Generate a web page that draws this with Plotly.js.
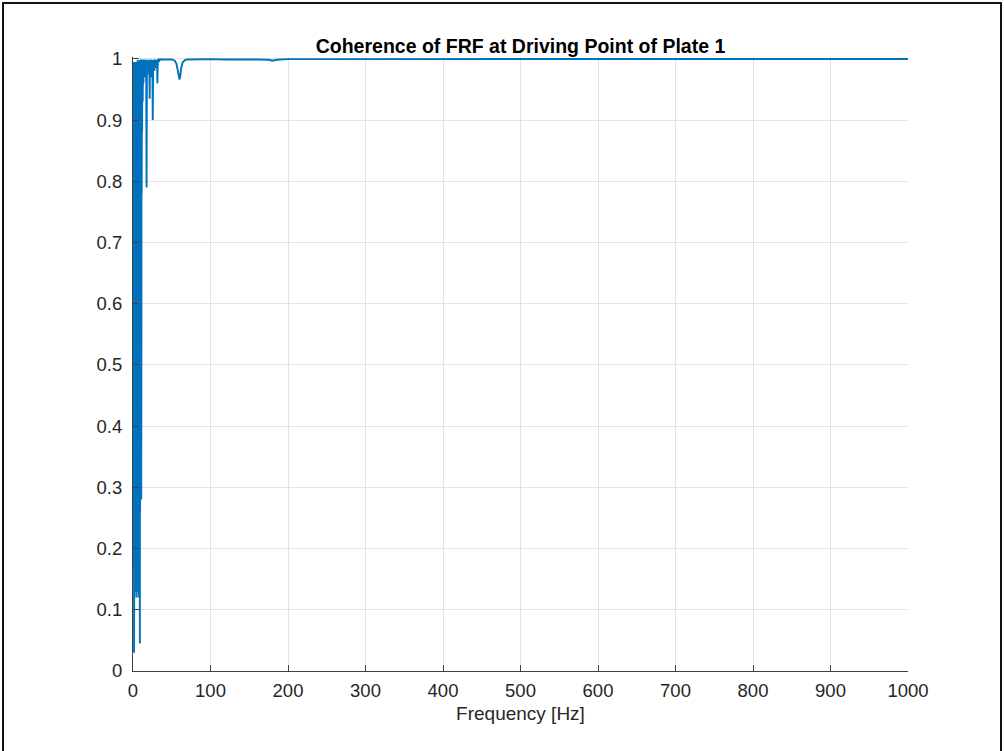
<!DOCTYPE html>
<html>
<head>
<meta charset="utf-8">
<script src="https://cdn.plot.ly/plotly-3.0.1.min.js"></script>
<style>
  html, body { margin: 0; padding: 0; background: #ffffff; overflow: hidden; }
  #wrap { position: relative; width: 1004px; height: 751px; }
  #chart { position: absolute; left: 0; top: 0; width: 1004px; height: 751px; }
  #frame { position: absolute; left: 2px; top: 2px; width: 996px; height: 780px;
           border: 2px solid #111111; pointer-events: none; }
</style>
</head>
<body>
<div id="wrap">
  <div id="chart"></div>
  <div id="frame"></div>
</div>
<script>
// Magnitude-squared coherence of the driving-point FRF, plate 1.
// Low band (0-11 Hz): poorly excited, coherence swings widely.
const freqLow = [0, 0.125, 0.25, 0.375, 0.5, 0.625, 0.75, 0.875, 1.0, 1.125, 1.25, 1.375,
                 1.5, 1.625, 1.75, 1.875, 2.0, 2.125, 2.25, 2.375, 2.5, 2.625, 2.75, 2.875,
                 3.0, 3.125, 3.25, 3.375, 3.5, 3.625, 3.75, 3.875, 4.0, 4.125, 4.25, 4.375,
                 4.5, 4.625, 4.75, 4.875, 5.0, 5.125, 5.25, 5.375, 5.5, 5.625, 5.75, 5.875,
                 6.0, 6.125, 6.25, 6.375, 6.5, 6.625, 6.75, 6.875, 7.0, 7.125, 7.25, 7.375,
                 7.5, 7.625, 7.75, 7.875, 8.0, 8.125, 8.25, 8.375, 8.5, 8.625, 8.75, 8.875,
                 9.0, 9.125, 9.25, 9.375, 9.5, 9.625, 9.75, 9.875, 10.0, 10.125, 10.25, 10.375,
                 10.5, 10.625, 10.75, 10.875];
const cohLow  = [0.93, 0.17, 0.98, 0.30, 0.99, 0.22, 0.97, 0.41, 0.995, 0.08, 0.98, 0.03,
                 0.99, 0.19, 0.97, 0.33, 0.995, 0.18, 0.985, 0.26, 0.96, 0.45, 0.99, 0.20,
                 0.99, 0.31, 0.98, 0.13, 0.98, 0.24, 0.995, 0.36, 0.995, 0.19, 0.975, 0.12,
                 0.97, 0.29, 0.99, 0.38, 0.99, 0.21, 0.985, 0.27, 0.985, 0.17, 0.995, 0.40,
                 0.998, 0.25, 0.99, 0.13, 0.99, 0.32, 0.995, 0.22, 0.995, 0.28, 0.98, 0.12,
                 0.98, 0.30, 0.997, 0.21, 0.997, 0.35, 0.99, 0.14, 0.99, 0.27, 0.996, 0.045,
                 0.998, 0.26, 0.995, 0.33, 0.995, 0.28, 0.997, 0.38, 0.999, 0.29, 0.99, 0.42,
                 0.995, 0.28, 0.998, 0.55];

// Transition band (11-35 Hz): isolated coherence drops.
const freqMid = [11.0, 11.25, 11.5, 11.75, 12.0, 12.5, 13.0, 13.5,
                 14.0, 14.5, 15.0, 15.5, 16.0, 16.5, 17.0, 17.5, 18.0, 18.5, 19.0, 19.5,
                 20.0, 20.5, 21.0, 21.5, 22.0, 22.5, 23.0, 23.5, 24.0, 24.5, 25.0, 25.5,
                 26.0, 26.5, 27.0, 27.5, 28.0, 28.5, 29.0, 29.5, 30.0, 30.5, 31.0, 31.5,
                 32.0, 33.0, 34.0, 35.0];
const cohMid  = [0.995, 0.78, 0.998, 0.88, 0.999, 0.93, 0.998, 0.96,
                 0.999, 0.975, 0.998, 0.97, 0.999, 0.985, 0.995, 0.79, 0.997, 0.98, 0.999, 0.975,
                 0.998, 0.99, 0.997, 0.935, 0.998, 0.985, 0.999, 0.97, 0.998, 0.99, 0.997, 0.90,
                 0.998, 0.985, 0.999, 0.98, 0.998, 0.99, 0.999, 0.985, 0.998, 0.99, 0.995, 0.96,
                 0.998, 0.999, 0.997, 0.999];

// Upper band (35-1000 Hz): coherence close to unity, small dip near 60 Hz.
const freqHigh = [40, 45, 50, 54, 56, 58, 59, 60, 61, 62, 64, 67, 70, 80, 90, 100,
                  120, 140, 160, 175, 180, 185, 200, 250, 300, 350, 400, 450, 500,
                  550, 600, 650, 700, 750, 800, 850, 900, 950, 1000];
const cohHigh  = [0.999, 0.9985, 0.999, 0.997, 0.992, 0.980, 0.970, 0.966, 0.972, 0.984, 0.994, 0.998, 0.999, 0.9995, 0.999, 0.9995,
                  0.999, 0.9995, 0.999, 0.9985, 0.997, 0.9985, 0.9995, 0.9995, 0.9997, 0.9996, 0.9997, 0.9998, 0.9997,
                  0.9998, 0.9998, 0.9997, 0.9998, 0.9998, 0.9998, 0.9997, 0.9998, 0.9998, 0.9998];

const xTicks = [0, 100, 200, 300, 400, 500, 600, 700, 800, 900, 1000];
const yTicks = [0, 0.1, 0.2, 0.3, 0.4, 0.5, 0.6, 0.7, 0.8, 0.9, 1];
const yTickText = ['0', '0.1', '0.2', '0.3', '0.4', '0.5', '0.6', '0.7', '0.8', '0.9', '1'];

const freq = freqLow.concat(freqMid, freqHigh);
const coh = cohLow.concat(cohMid, cohHigh);

const fontFamily = '"Liberation Sans", Arial, Helvetica, sans-serif';
const axisColor = '#262626';

const trace = {
  x: freq,
  y: coh,
  type: 'scatter',
  mode: 'lines',
  line: { color: '#0072BD', width: 1.9 },
  hoverinfo: 'x+y'
};

const layout = {
  width: 1004,
  height: 751,
  paper_bgcolor: '#ffffff',
  plot_bgcolor: '#ffffff',
  margin: { l: 133, r: 96, t: 57, b: 80, pad: 0 },
  showlegend: false,
  font: { family: fontFamily, size: 18.5, color: axisColor },
  title: {
    text: '<b>Coherence of FRF at Driving Point of Plate 1</b>',
    font: { family: fontFamily, size: 19.5, color: '#000000' },
    x: 0.5, xref: 'paper', xanchor: 'center',
    y: 1, yref: 'paper', yanchor: 'bottom',
    pad: { b: 4 }
  },
  xaxis: {
    range: [0, 1000],
    tickvals: xTicks,
    ticktext: xTicks.map(String),
    ticks: 'inside', ticklen: 6, tickwidth: 1, tickcolor: '#404040',
    showline: true, linecolor: '#404040', linewidth: 1, mirror: false,
    showgrid: true, gridcolor: '#e3e3e3', gridwidth: 1,
    zeroline: false,
    tickfont: { family: fontFamily, size: 18.5, color: axisColor },
    ticklabelstandoff: 3,
    title: { text: 'Frequency [Hz]', font: { family: fontFamily, size: 19, color: axisColor }, standoff: 6 }
  },
  yaxis: {
    range: [0, 1.003],
    tickvals: yTicks,
    ticktext: yTickText,
    ticks: 'inside', ticklen: 6, tickwidth: 1, tickcolor: '#404040',
    showline: true, linecolor: '#404040', linewidth: 1, mirror: false,
    showgrid: true, gridcolor: '#e3e3e3', gridwidth: 1,
    zeroline: false,
    tickfont: { family: fontFamily, size: 18.5, color: axisColor },
    ticklabelstandoff: 6
  }
};

Plotly.newPlot('chart', [trace], layout, { displayModeBar: false, staticPlot: true });
</script>
</body>
</html>
